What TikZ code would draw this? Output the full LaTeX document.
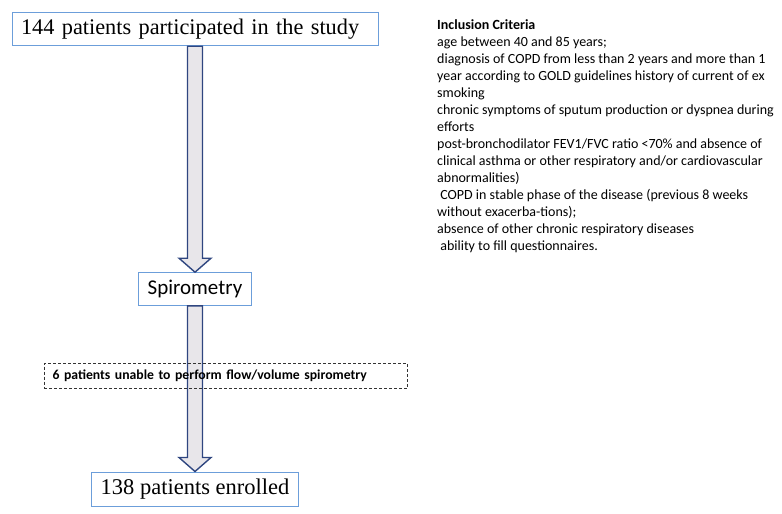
\documentclass[tikz,border=0pt]{standalone}
\usepackage{fontspec}
\setmainfont{Liberation Serif}
\newfontfamily\calibri{Carlito}
\usepackage{tikz}
\usetikzlibrary{calc}
\definecolor{boxblue}{RGB}{108,158,218}
\definecolor{arrownavy}{RGB}{47,70,128}
\definecolor{arrowgray}{RGB}{232,230,234}

\begin{document}
\begin{tikzpicture}[x=1pt,y=-1pt]
        \tikzset{stage/.style = {shape=rectangle, draw=boxblue, line width=1pt,
                inner sep=0pt, fill=white}}
        \tikzset{fatarrow/.style = {draw=arrownavy, fill=arrowgray,
                line width=1.4pt, line join=miter}}
        \tikzset{excluded/.style = {shape=rectangle, draw=black!80, dashed,
                dash pattern=on 3pt off 2pt, line width=0.7pt, inner xsep=8.5pt,
                text width=346pt, align=left, minimum height=25.5pt,
                font=\calibri\bfseries\fontsize{13.7}{17}\selectfont}}
        \tikzset{criteria/.style = {align=left, inner sep=0pt,
                font=\calibri\fontsize{14}{17}\selectfont}}

        \useasboundingbox (0, 0) rectangle (782, 514);

        \node[stage, text width=348pt, inner xsep=9pt, align=left, minimum height=33.4pt,
              font=\fontsize{22.3}{26}\selectfont] (total) at (195, 29) {\mbox{144 patients participated in the study}};
        \node[stage, minimum width=113.4pt, minimum height=32.6pt,
              font=\calibri\fontsize{21}{24}\selectfont] (spiro) at (195, 289) {Spirometry};
        \node[stage, minimum width=207.7pt, minimum height=34pt,
              font=\fontsize{22.5}{26}\selectfont] (enrolled) at (195, 489) {138 patients enrolled};

        % block arrows between the stages
        \foreach \a/\b in {total/spiro, spiro/enrolled}
        {
            \draw[fatarrow] ($(\a.south)+(-7.5,0)$) -- ($(\b.north)+(-7.5,-14)$)
                -- ($(\b.north)+(-16,-14)$) -- (\b.north)
                -- ($(\b.north)+(16,-14)$) -- ($(\b.north)+(7.5,-14)$)
                -- ($(\a.south)+(7.5,0)$) -- cycle;
        }

        \node[excluded] (unable) at (225.5, 375.8) {6 patients unable to perform flow/volume spirometry};

        \node[criteria, anchor=north west] (incl) at (437, 19) {%
            \textbf{Inclusion Criteria}\\
            age between 40 and 85 years;\\
            diagnosis of COPD from less than 2 years and more than 1\\
            year according to GOLD guidelines history of current of ex\\
            smoking\\
            chronic symptoms of sputum production or dyspnea during\\
            efforts\\
            post-bronchodilator FEV1/FVC ratio <70\% and absence of\\
            clinical asthma or other respiratory and/or cardiovascular\\
            abnormalities)\\
            \ COPD in stable phase of the disease (previous 8 weeks\\
            without exacerba-tions);\\
            absence of other chronic respiratory diseases\\
            \ ability to fill questionnaires.};
    \end{tikzpicture}
\end{document}
